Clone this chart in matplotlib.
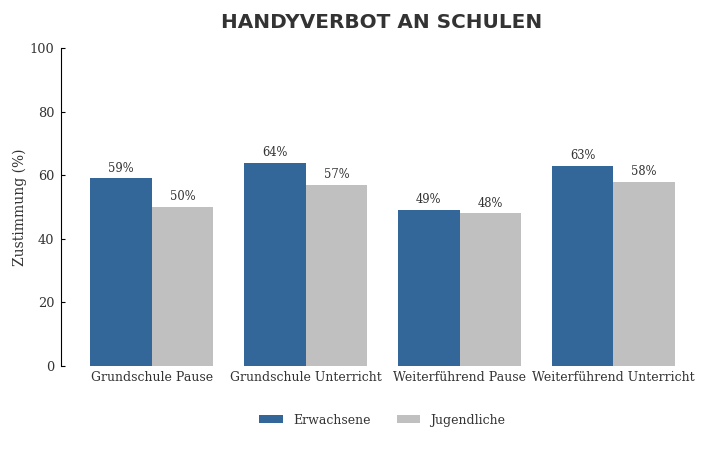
import matplotlib
matplotlib.use("Agg")
import matplotlib.pyplot as plt
import numpy as np

categories = ["Grundschule Pause", "Grundschule Unterricht", "Weiterführend Pause", "Weiterführend Unterricht"]
erwachsene = [59, 64, 49, 63]
jugendliche = [50, 57, 48, 58]

plt.rcParams['font.family'] = 'DejaVu Serif'

fig = plt.figure(figsize=(7.2, 4.5), dpi=100)
ax = fig.add_axes([0.085, 0.187, 0.893, 0.706])

x = np.arange(len(categories))
w = 0.4
b1 = ax.bar(x - w/2, erwachsene, w, color="#336699", label="Erwachsene")
b2 = ax.bar(x + w/2, jugendliche, w, color="#c0c0c0", label="Jugendliche")

for bars in (b1, b2):
    for b in bars:
        ax.text(b.get_x() + b.get_width()/2, b.get_height() + 1.2, f"{b.get_height():.0f}%",
                ha="center", va="bottom", fontsize=8.3, color="#333333")

ax.set_ylim(0, 100)
ax.set_xticks(x)
ax.set_xticklabels(categories, fontsize=9, color="#333333")
ax.tick_params(axis="x", length=0, pad=4)
ax.tick_params(axis="y", direction="in", length=3, pad=5, labelsize=9.3, labelcolor="#333333")
ax.set_ylabel("Zustimmung (%)", fontsize=10, color="#333333", labelpad=2)

for s in ("top", "right", "bottom"):
    ax.spines[s].set_visible(False)

fig.text(0.53, 0.951, "HANDYVERBOT AN SCHULEN", ha="center", va="center",
         fontsize=14.4, fontweight="bold", color="#333333", family="DejaVu Sans")

fig.legend(loc="center", bbox_to_anchor=(0.531, 0.066), ncol=2, frameon=False,
           fontsize=9, handlelength=1.9, handleheight=0.6, handletextpad=0.8,
           columnspacing=2.1, labelcolor="#333333")

fig.savefig("out.png", dpi=100)
